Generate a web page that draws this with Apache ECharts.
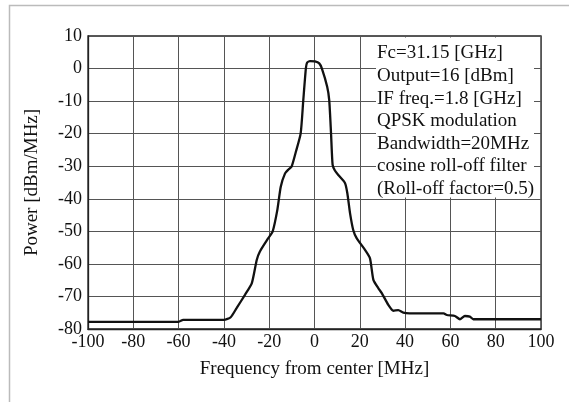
<!DOCTYPE html>
<html><head><meta charset="utf-8">
<script src="https://cdn.jsdelivr.net/npm/echarts@6/dist/echarts.min.js"></script>
<style>html,body{margin:0;padding:0;background:#fff}#c{width:569px;height:402px}</style>
</head><body><div id="c"></div>
<script>
const freqMHz = [-100,-60,-58,-40,-37,-34.4,-30.7,-27.7,-25.5,-24.1,-20.4,-18.5,-16.4,-14.9,-13,-11.5,-10.1,-8.2,-6.1,-4.95,-3.8,-3.3,-2,0.2,2.1,3.2,5.6,6.5,7.3,8.0,9,10.5,13.5,14.5,15.7,17.1,18.6,22.3,24.5,26.0,28.2,29.7,32.6,34.8,37.0,39.2,42,57,58.4,62,64.2,66.4,68.6,70.1,100];
const powerDbm = [-77.8,-77.8,-77.2,-77.2,-76.4,-73.6,-69.5,-66,-58.8,-56.2,-52.1,-50.1,-43.4,-36.3,-32.2,-31,-30.1,-25.5,-19.9,-9.7,0.1,1.8,2.3,2.2,1.6,0.1,-5.6,-9.7,-19.9,-29.6,-31.3,-32.7,-35.2,-38.3,-44.5,-49.6,-52.1,-55.7,-58.3,-64.9,-67.5,-69.0,-72.6,-74.4,-74.2,-75.0,-75.2,-75.2,-75.7,-76.0,-77.0,-76.0,-76.2,-77.0,-77.0];
const notes = ["Fc=31.15 [GHz]","Output=16 [dBm]","IF freq.=1.8 [GHz]","QPSK modulation","Bandwidth=20MHz","cosine roll-off filter","(Roll-off factor=0.5)"];
const xName = "Frequency from center [MHz]";
const yName = "Power [dBm/MHz]";

const FONT = "'Liberation Serif','Times New Roman',serif";
const chart = echarts.init(document.getElementById('c'), null, {renderer:'canvas'});
const noteEls = notes.map((t,i)=>({type:'text', left:377, top:44+i*22.6, z:101,
  style:{text:t, font:"19px "+FONT, fill:'#111'}}));
chart.setOption({
  animation:false,
  backgroundColor:'#fff',
  grid:{left:88, top:36, width:453, height:293, show:true, borderColor:'#222', borderWidth:1.3, containLabel:false},
  xAxis:{type:'value', min:-100, max:100, interval:20,
    name:xName, nameLocation:'middle', nameGap:31,
    nameTextStyle:{fontFamily:FONT, fontSize:19, color:'#111'},
    axisLine:{show:true, onZero:false, lineStyle:{color:'#222', width:1.3}},
    axisTick:{show:false},
    axisLabel:{fontFamily:FONT, fontSize:18, color:'#111', margin:4},
    splitLine:{show:true, lineStyle:{color:'#555', width:1}}},
  yAxis:{type:'value', min:-80, max:10, interval:10,
    name:yName, nameLocation:'middle', nameGap:46, nameRotate:90,
    nameTextStyle:{fontFamily:FONT, fontSize:19, color:'#111'},
    axisLine:{show:true, onZero:false, lineStyle:{color:'#222', width:1.3}},
    axisTick:{show:false},
    axisLabel:{fontFamily:FONT, fontSize:18, color:'#111', margin:6},
    splitLine:{show:true, lineStyle:{color:'#555', width:1}}},
  series:[{type:'line', data:freqMHz.map((f,i)=>[f,powerDbm[i]]), showSymbol:false, smooth:0.2,
    lineStyle:{color:'#111', width:2.3}, z:5}],
  graphic:[
    {type:'rect', z:100, shape:{x:376, y:37.5, width:158, height:160}, style:{fill:'#fff'}},
    ...noteEls,
    {type:'polyline', z:0, shape:{points:[[9.5,410],[9.5,5.5],[580,5.5]]}, style:{stroke:'#bbb', lineWidth:1.5, fill:null}}
  ]
});
</script></body></html>
